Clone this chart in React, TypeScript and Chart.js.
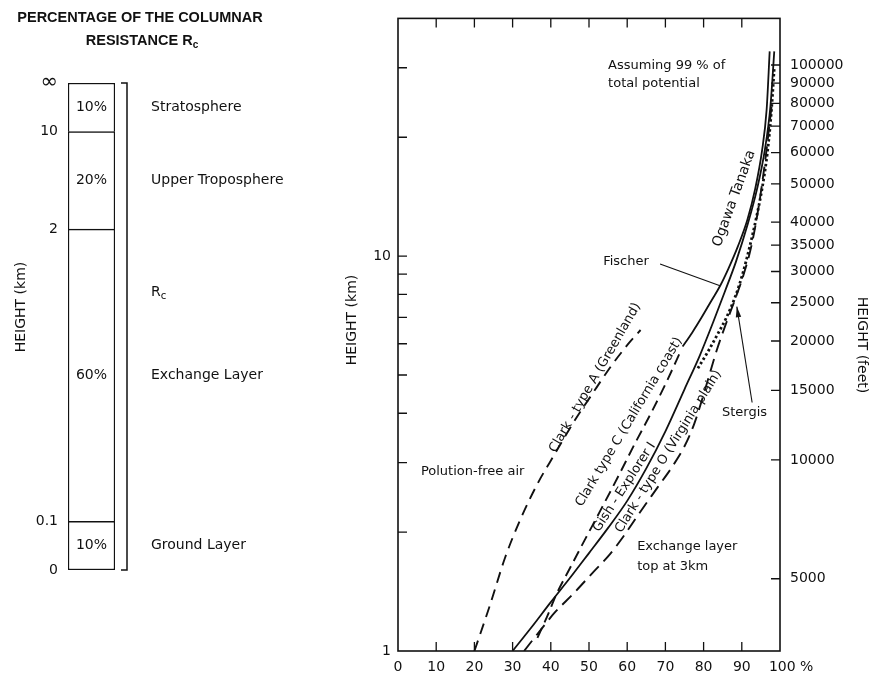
import React, { useEffect, useRef } from "react";
import { Chart, registerables } from "chart.js";
Chart.register(...registerables);

const INK = "#111111";
const FONT = "'DejaVu Sans', sans-serif";
const TITLE_FONT = "'Liberation Sans', Arial, sans-serif";

// ---------- Left panel: share of the columnar resistance ----------
const layerNames = ["Ground Layer", "Exchange Layer", "Upper Troposphere", "Stratosphere"];
const layerShares = [10, 60, 20, 10];
const layerShareLabels = ["10%", "60%", "20%", "10%"];
const boundaryTicks = [0, 10, 70, 90, 100];
const boundaryLabels = ["0", "0.1", "2", "10", "∞"];

// ---------- Right panel: cumulative % of columnar resistance vs height ----------
const percentTicks = [0, 10, 20, 30, 40, 50, 60, 70, 80, 90, 100];
const percentLabels = ["0", "10", "20", "30", "40", "50", "60", "70", "80", "90", "     100 %"];
const kmTicks = [1, 2, 3, 4, 5, 6, 7, 8, 9, 10, 20, 30];
const kmTickLabels = ["1", "", "", "", "", "", "", "", "", "10", "", ""];
const feetTicks = [5000, 10000, 15000, 20000, 25000, 30000, 35000, 40000, 50000, 60000, 70000, 80000, 90000, 100000];
const KM_MIN = 1;
const KM_MAX = 40;
const FEET_PER_KM = 3280.84;

const greenlandPct = [20, 24, 28, 32, 36.5, 41, 46, 51, 56, 60, 63.5];
const greenlandKm = [1, 1.3, 1.72, 2.15, 2.65, 3.15, 3.8, 4.5, 5.3, 5.95, 6.5];

const californiaPct = [36.5, 39, 41.6, 45, 49, 53, 57.5, 62, 66.5, 70.5, 74];
const californiaKm = [1.08, 1.22, 1.4, 1.62, 1.92, 2.27, 2.75, 3.35, 4.05, 4.85, 5.75];

const gishPct = [30, 35, 40, 45, 50, 55, 60, 65, 70, 75, 79, 82.5, 85.5, 88.5, 91.5, 94, 96, 97.5, 98.5];
const gishKm = [1, 1.15, 1.33, 1.53, 1.77, 2.05, 2.4, 2.9, 3.6, 4.6, 5.6, 6.8, 8.1, 9.7, 12, 14.8, 18.5, 24, 33];

const ogawaPct = [74.5, 77, 79.5, 82, 84.3, 86.5, 89, 91.5, 93.5, 95.3, 96.5, 97.3];
const ogawaKm = [5.9, 6.4, 7.0, 7.7, 8.4, 9.3, 10.6, 12.4, 14.8, 18.5, 23.5, 33];

const virginiaPct = [33, 37, 41, 46, 51, 55.5, 59, 63.4, 68, 72, 75, 77.5, 79.5, 81.5, 83.5, 86, 88.5, 90.5, 92.5, 94.5, 96.3, 97.8];
const virginiaKm = [1, 1.12, 1.25, 1.4, 1.58, 1.76, 1.95, 2.25, 2.6, 2.95, 3.3, 3.75, 4.3, 5.0, 5.8, 6.8, 7.9, 9.0, 10.6, 13.5, 18, 24];

const stergisPct = [78.5, 81, 83.5, 86, 88.3, 90.2, 92, 93.8, 95.4, 96.7, 97.7, 98.5];
const stergisKm = [5.2, 5.7, 6.3, 7.0, 7.9, 9.0, 10.5, 12.5, 15, 18.3, 23, 30];

const fischerLeaderPct = [68.6, 84.3];
const fischerLeaderKm = [9.55, 8.41];
const stergisLeaderPct = [92.7, 88.7];
const stergisLeaderKm = [4.26, 7.45];

const pts = (xs: number[], ys: number[]) => xs.map((x, i) => ({ x, y: ys[i] }));

function drawLabel(
  c: CanvasRenderingContext2D,
  text: string,
  x: number,
  y: number,
  font: string,
  align: CanvasTextAlign = "center",
  angleDeg = 0
) {
  c.save();
  c.translate(x, y);
  c.rotate((angleDeg * Math.PI) / 180);
  c.font = font;
  c.textAlign = align;
  c.textBaseline = "middle";
  c.fillStyle = INK;
  c.fillText(text, 0, 0);
  c.restore();
}

function drawSub(c: CanvasRenderingContext2D, main: string, sub: string, x: number, y: number, font: string, subFont: string, align: "left" | "center") {
  c.save();
  c.font = font;
  const w1 = c.measureText(main).width;
  c.font = subFont;
  const w2 = c.measureText(sub).width;
  const x0 = align === "center" ? x - (w1 + w2) / 2 : x;
  c.fillStyle = INK;
  c.textBaseline = "middle";
  c.textAlign = "left";
  c.font = font;
  c.fillText(main, x0, y);
  c.font = subFont;
  c.fillText(sub, x0 + w1, y + 4);
  c.restore();
}

function LeftPanel() {
  const ref = useRef<HTMLCanvasElement>(null);
  useEffect(() => {
    const decor = {
      id: "leftDecor",
      afterDraw(chart: any) {
        const c: CanvasRenderingContext2D = chart.ctx;
        const a = chart.chartArea;
        const ys = chart.scales.y;
        const f14 = `14px ${FONT}`;
        chart.data.datasets.forEach((_: any, i: number) => {
          const bar = chart.getDatasetMeta(i).data[0];
          const p = bar.getProps(["x", "y", "base"], true);
          const cy = (p.y + p.base) / 2;
          drawLabel(c, layerShareLabels[i], p.x, cy, f14, "center");
          drawLabel(c, layerNames[i], a.right + 36, cy, f14, "left");
        });
        drawSub(c, "R", "c", a.right + 36, ys.getPixelForValue(57), f14, `10px ${FONT}`, "left");
        const yt = ys.getPixelForValue(100);
        const yb = ys.getPixelForValue(0);
        c.save();
        c.strokeStyle = INK;
        c.lineWidth = 1.5;
        c.beginPath();
        c.moveTo(a.right + 6, yt);
        c.lineTo(a.right + 12, yt);
        c.lineTo(a.right + 12, yb);
        c.lineTo(a.right + 6, yb);
        c.stroke();
        c.restore();
        const tf = `bold 14.5px ${TITLE_FONT}`;
        drawLabel(c, "PERCENTAGE OF THE COLUMNAR", 140, 18, tf, "center");
        drawSub(c, "RESISTANCE R", "c", 142, 41, tf, `bold 10px ${TITLE_FONT}`, "center");
        drawLabel(c, "HEIGHT (km)", 21, 307, `14px ${FONT}`, "center", -90);
      },
    };
    const chart = new Chart(ref.current!, {
      type: "bar",
      data: {
        labels: [""],
        datasets: layerShares.map((v, i) => ({
          label: layerNames[i],
          data: [v],
          backgroundColor: "#ffffff",
          borderColor: INK,
          borderWidth: { top: 1.5, left: 1.5, right: 1.5, bottom: i === 0 ? 1.5 : 0 },
          borderSkipped: false,
          barPercentage: 1,
          categoryPercentage: 1,
        })),
      },
      options: {
        animation: false,
        responsive: false,
        layout: { padding: { top: 83, bottom: 104, left: 0, right: 215 } },
        plugins: { legend: { display: false }, tooltip: { enabled: false } },
        scales: {
          x: { display: false, stacked: true },
          y: {
            stacked: true,
            min: 0,
            max: 100,
            grid: { display: false, drawTicks: false },
            border: { display: false },
            afterBuildTicks: (s: any) => {
              s.ticks = boundaryTicks.map((v) => ({ value: v }));
            },
            afterFit: (s: any) => {
              s.width = 68;
            },
            ticks: {
              padding: 10,
              autoSkip: false,
              color: INK,
              font: (ctx: any) => ({ family: FONT, size: ctx.tick && ctx.tick.value === 100 ? 21 : 14 }),
              callback: (v: any) => {
                const i = boundaryTicks.indexOf(Number(v));
                return i >= 0 ? boundaryLabels[i] : "";
              },
            },
          },
        },
      },
      plugins: [decor],
    } as any);
    return () => chart.destroy();
  }, []);
  return <canvas ref={ref} width={330} height={674} style={{ position: "absolute", left: 0, top: 0 }} />;
}

function RightPanel() {
  const ref = useRef<HTMLCanvasElement>(null);
  useEffect(() => {
    const decor = {
      id: "rightDecor",
      afterDraw(chart: any) {
        const c: CanvasRenderingContext2D = chart.ctx;
        const a = chart.chartArea;
        const xs = chart.scales.x;
        const ys = chart.scales.y;
        const fs = chart.scales.yFeet;
        c.save();
        c.strokeStyle = INK;
        c.lineWidth = 1.6;
        c.strokeRect(a.left, a.top, a.right - a.left, a.bottom - a.top);
        c.lineWidth = 1.3;
        const TL = 9;
        c.beginPath();
        percentTicks.forEach((v) => {
          if (v === 0 || v === 100) return;
          const px = xs.getPixelForValue(v);
          c.moveTo(px, a.bottom);
          c.lineTo(px, a.bottom - TL);
          c.moveTo(px, a.top);
          c.lineTo(px, a.top + TL);
        });
        kmTicks.forEach((v) => {
          if (v === KM_MIN) return;
          const py = ys.getPixelForValue(v);
          c.moveTo(a.left, py);
          c.lineTo(a.left + TL, py);
        });
        feetTicks.forEach((v) => {
          const py = fs.getPixelForValue(v);
          c.moveTo(a.right, py);
          c.lineTo(a.right - TL, py);
        });
        c.stroke();
        const [ax, ay] = [xs.getPixelForValue(stergisLeaderPct[1]), ys.getPixelForValue(stergisLeaderKm[1])];
        const [bx, by] = [xs.getPixelForValue(stergisLeaderPct[0]), ys.getPixelForValue(stergisLeaderKm[0])];
        const ang = Math.atan2(by - ay, bx - ax);
        c.fillStyle = INK;
        c.beginPath();
        c.moveTo(ax, ay);
        c.lineTo(ax + 11 * Math.cos(ang + 0.25), ay + 11 * Math.sin(ang + 0.25));
        c.lineTo(ax + 11 * Math.cos(ang - 0.25), ay + 11 * Math.sin(ang - 0.25));
        c.closePath();
        c.fill();
        c.restore();

        const P = (x: number, km: number): [number, number] => [xs.getPixelForValue(x), ys.getPixelForValue(km)];
        const f13 = `13px ${FONT}`;
        const f14 = `14px ${FONT}`;
        const rotated: [string, number, number, number, string][] = [
          ["Clark - type A (Greenland)", 51.6, 4.92, -60, f13],
          ["Clark type C (California coast)", 60.5, 3.8, -59, f13],
          ["Gish - Explorer I", 59.3, 2.6, -57, f13],
          ["Clark - type O (Virginia plain)", 70.8, 3.2, -58, f13],
          ["Ogawa Tanaka", 88, 14, -70, f14],
        ];
        rotated.forEach(([t, x, k, ang2, f]) => {
          const [px, py] = P(x, k);
          drawLabel(c, t, px, py, f, "center", ang2);
        });
        const flat: [string, number, number][] = [
          ["Polution-free air", 6.0, 2.84],
          ["Exchange layer", 62.6, 1.84],
          ["top at 3km", 62.6, 1.64],
          ["Assuming 99 % of", 55, 30.3],
          ["total potential", 55, 27.3],
          ["Fischer", 53.7, 9.67],
          ["Stergis", 84.8, 4.02],
        ];
        flat.forEach(([t, x, k]) => {
          const [px, py] = P(x, k);
          drawLabel(c, t, px, py, f13, "left");
        });
        drawLabel(c, "HEIGHT (km)", 22, 320, `14px ${FONT}`, "center", -90);
        drawLabel(c, "HEIGHT (feet)", 532, 345, `14px ${FONT}`, "center", 90);
      },
    };

    const curve = (data: any[], dash: number[], width = 1.8, mode: string = "monotone") => ({
      data,
      showLine: true,
      borderColor: INK,
      borderWidth: width,
      borderDash: dash,
      pointRadius: 0,
      fill: false,
      cubicInterpolationMode: mode,
      tension: 0,
    });

    const chart = new Chart(ref.current!, {
      type: "scatter",
      data: {
        datasets: [
          curve(pts(greenlandPct, greenlandKm), [11, 7], 1.9),
          curve(pts(californiaPct, californiaKm), [11, 6], 1.9),
          curve(pts(gishPct, gishKm), [], 1.8),
          curve(pts(ogawaPct, ogawaKm), [], 1.8),
          curve(pts(virginiaPct, virginiaKm), [13, 7], 1.9),
          curve(pts(stergisPct, stergisKm), [2.5, 2.5], 2.8),
          curve(pts(fischerLeaderPct, fischerLeaderKm), [], 1.1, "default"),
          curve(pts(stergisLeaderPct, stergisLeaderKm), [], 1.1, "default"),
        ],
      },
      options: {
        animation: false,
        responsive: false,
        layout: { padding: { top: 11, left: 0, right: 0, bottom: 0 } },
        plugins: { legend: { display: false }, tooltip: { enabled: false } },
        scales: {
          x: {
            type: "linear",
            position: "bottom",
            min: 0,
            max: 100,
            grid: { display: false, drawTicks: false },
            border: { display: false },
            afterBuildTicks: (s: any) => {
              s.ticks = percentTicks.map((v) => ({ value: v }));
            },
            afterFit: (s: any) => {
              s.height = 23;
            },
            ticks: {
              padding: 8,
              autoSkip: false,
              maxRotation: 0,
              color: INK,
              font: { family: FONT, size: 14 },
              callback: (v: any) => {
                const i = percentTicks.indexOf(Number(v));
                return i >= 0 ? percentLabels[i] : "";
              },
            },
          },
          y: {
            type: "logarithmic",
            position: "left",
            min: KM_MIN,
            max: KM_MAX,
            grid: { display: false, drawTicks: false },
            border: { display: false },
            afterBuildTicks: (s: any) => {
              s.ticks = kmTicks.map((v) => ({ value: v }));
            },
            afterFit: (s: any) => {
              s.width = 68;
            },
            ticks: {
              padding: 7,
              autoSkip: false,
              color: INK,
              font: { family: FONT, size: 14 },
              callback: (v: any) => {
                const i = kmTicks.indexOf(Number(v));
                return i >= 0 ? kmTickLabels[i] : "";
              },
            },
          },
          yFeet: {
            type: "logarithmic",
            position: "right",
            min: KM_MIN * FEET_PER_KM,
            max: KM_MAX * FEET_PER_KM,
            grid: { display: false, drawTicks: false },
            border: { display: false },
            afterBuildTicks: (s: any) => {
              s.ticks = feetTicks.map((v) => ({ value: v }));
            },
            afterFit: (s: any) => {
              s.width = 105;
            },
            ticks: {
              padding: 10,
              autoSkip: false,
              color: INK,
              font: { family: FONT, size: 14 },
              callback: (v: any) => String(v),
            },
          },
        },
      },
      plugins: [decor],
    } as any);
    return () => chart.destroy();
  }, []);
  return <canvas ref={ref} width={555} height={674} style={{ position: "absolute", left: 330, top: 0 }} />;
}

export default function App() {
  return (
    <div style={{ position: "fixed", left: 0, top: 0, width: 885, height: 674, background: "#ffffff", overflow: "hidden" }}>
      <LeftPanel />
      <RightPanel />
    </div>
  );
}
